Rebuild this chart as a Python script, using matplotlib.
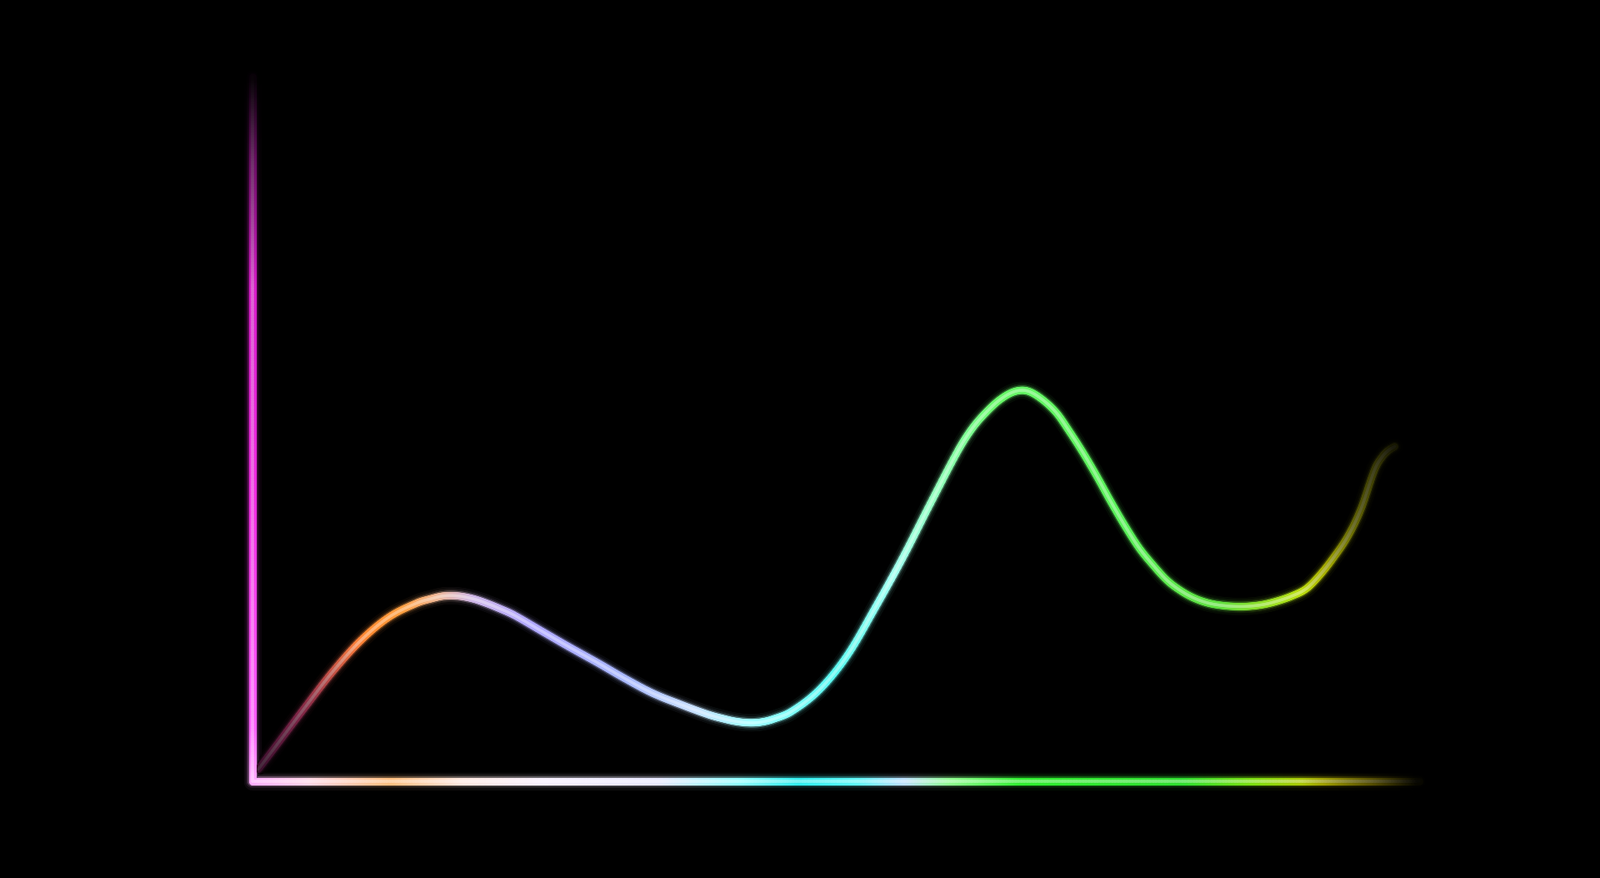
"""
发光渐变曲线 (黑底霓虹风格)
"""

import numpy as np
import matplotlib
import matplotlib.pyplot as plt
from matplotlib.collections import LineCollection
from matplotlib.colors import to_rgb
from matplotlib.path import Path

matplotlib.use('Agg')

# 曲线数据 (从图上读出的点)
curve_x = [0.5, 2.1, 4.6, 6.9, 9.3, 11.7, 14.1, 15.3, 16.4, 17.6,
           18.9, 20.0, 21.2, 22.4, 24.8, 27.1, 29.6, 31.9, 34.3, 36.7,
           39.1, 40.3, 41.4, 42.6, 43.6, 44.6, 46.2, 48.6, 51.0, 53.4,
           55.7, 58.1, 60.5, 61.7, 62.9, 64.1, 65.3, 66.4, 67.6, 68.9,
           70.0, 71.2, 72.4, 73.6, 74.8, 76.0, 77.1, 78.4, 79.6, 80.7,
           81.9, 83.1, 84.4, 85.5, 86.7, 87.9, 89.1, 90.3, 91.4, 92.6,
           93.9, 95.0, 96.2, 96.9, 97.4, 97.9]
curve_y = [1.7, 5.2, 10.7, 15.6, 20.0, 23.3, 25.3, 25.9, 26.3, 26.3,
           25.9, 25.3, 24.5, 23.6, 21.3, 19.1, 16.8, 14.6, 12.5, 10.9,
           9.45, 8.9, 8.5, 8.3, 8.4, 8.8, 9.9, 13.0, 17.9, 24.7,
           31.6, 39.4, 47.0, 50.1, 52.4, 54.2, 55.3, 55.4, 54.3, 52.3,
           49.7, 46.6, 43.2, 39.6, 36.2, 33.1, 30.85, 28.5, 27.0, 26.0,
           25.3, 24.95, 24.8, 24.85, 25.1, 25.6, 26.3, 27.3, 29.1, 31.6,
           34.8, 38.6, 44.3, 46.2, 47.0, 47.5]

# 坐标范围
x_range = (0, 100)
y_range = (0, 100)

# 颜色渐变节点
curve_stops = [(0, '#a02880'), (4, '#c83a70'), (7, '#e86050'), (10, '#ff8a30'),
               (13, '#ffa040'), (16, '#f0b898'), (19, '#d0b8e8'), (24, '#b0a8ff'),
               (32, '#a8b8ff'), (38, '#c8e0ff'), (43, '#a0ffff'), (50, '#58f8f0'),
               (55, '#a0fff0'), (59, '#90ffb8'), (64, '#68f868'), (75, '#58f058'),
               (83, '#60e040'), (88, '#a0e020'), (92, '#d8e000'), (97, '#b0b010')]
curve_fade = ([0, 9, 90, 98], [0.3, 1, 1, 0.12])

xaxis_stops = [(0, '#ffb0ff'), (5, '#ffd8e8'), (12, '#ffc080'), (18, '#ffe8e0'),
               (25, '#f8f0ff'), (35, '#e8e8ff'), (42, '#90ffff'), (47, '#30f0f0'),
               (52, '#60f8f8'), (56, '#c0e0ff'), (60, '#90ff90'), (66, '#30f030'),
               (80, '#30e030'), (86, '#80e010'), (92, '#c0c000'), (96, '#b0a000')]
xaxis_fade = ([0, 90, 96, 100], [1, 1, 0.5, 0.03])

yaxis_stops = [(0, '#ffb0ff'), (8, '#ff60ff'), (40, '#ff30f0'), (70, '#f020e0')]
yaxis_fade = ([0, 70, 88, 100], [1, 0.9, 0.45, 0.03])


def gradient(stops, t):
    pos = [s[0] for s in stops]
    cols = np.array([to_rgb(s[1]) for s in stops])
    return np.stack([np.interp(t, pos, cols[:, k]) for k in range(3)], axis=1)


def smooth_path(xs, ys, n=12):
    # 用贝塞尔曲线平滑连接读出的点 (matplotlib Path 自己计算曲线)
    p = np.column_stack([xs, ys]).astype(float)
    m = len(p)
    # 每个点的切线 (按x间距计算, 间距不均匀也不会打折)
    tang = np.zeros_like(p)
    for i in range(m):
        a, b = max(i - 1, 0), min(i + 1, m - 1)
        tang[i] = (p[b] - p[a]) / (p[b, 0] - p[a, 0])
    verts = [p[0]]
    codes = [Path.MOVETO]
    for i in range(m - 1):
        h = p[i + 1, 0] - p[i, 0]
        c1 = p[i] + tang[i] * h / 3
        c2 = p[i + 1] - tang[i + 1] * h / 3
        verts += [c1, c2, p[i + 1]]
        codes += [Path.CURVE4] * 3
    path = Path(np.array(verts), codes)
    out = []
    for bez, _ in path.iter_bezier():
        for t in np.linspace(0, 1, n, endpoint=False):
            out.append(bez.point_at_t(t))
    out.append(p[-1])
    out = np.array(out)
    return out[:, 0], out[:, 1]


# 发光层: (线宽倍数, 亮度, 白色混合)
layers = [(2.4, 0.05, 0), (1.8, 0.14, 0), (1.35, 0.4, 0), (1.0, 1.0, 0), (0.4, 1.0, 0.35)]


def glow(ax, xs, ys, t, stops, fade, lw, layer, z):
    w, b, mix = layers[layer]
    rgb = gradient(stops, t)
    bright = np.interp(t, fade[0], fade[1])[:, None]
    col = (rgb * (1 - mix) + mix) * bright * b
    col = np.clip(col, 0, 1)
    pts = np.column_stack([xs, ys])
    segs = np.stack([pts[:-1], pts[1:]], axis=1)
    cmid = (col[:-1] + col[1:]) / 2
    lc = LineCollection(segs, colors=cmid, linewidths=lw * w,
                        capstyle='round', joinstyle='round', zorder=z)
    lc.set_clip_on(False)
    ax.add_collection(lc)


fig = plt.figure(figsize=(19.2, 10.53), dpi=100, facecolor='black')
ax = fig.add_axes([0.1578, 0.1102, 0.7292, 0.8025])
ax.set_facecolor('black')
ax.set_xlim(*x_range)
ax.set_ylim(*y_range)
ax.axis('off')

cx, cy = smooth_path(curve_x, curve_y)
ax_x = np.linspace(x_range[0], x_range[1], 400)
ax_y = np.linspace(y_range[0], y_range[1], 300)

for k in range(len(layers)):
    z = 2 + k
    glow(ax, cx, cy, cx, curve_stops, curve_fade, 6.2, k, z)
    glow(ax, ax_x, np.zeros_like(ax_x), ax_x, xaxis_stops, xaxis_fade, 6.4, k, z)
    glow(ax, np.zeros_like(ax_y), ax_y, ax_y, yaxis_stops, yaxis_fade, 6.4, k, z)

fig.savefig('out.png', dpi=100, facecolor='black')
